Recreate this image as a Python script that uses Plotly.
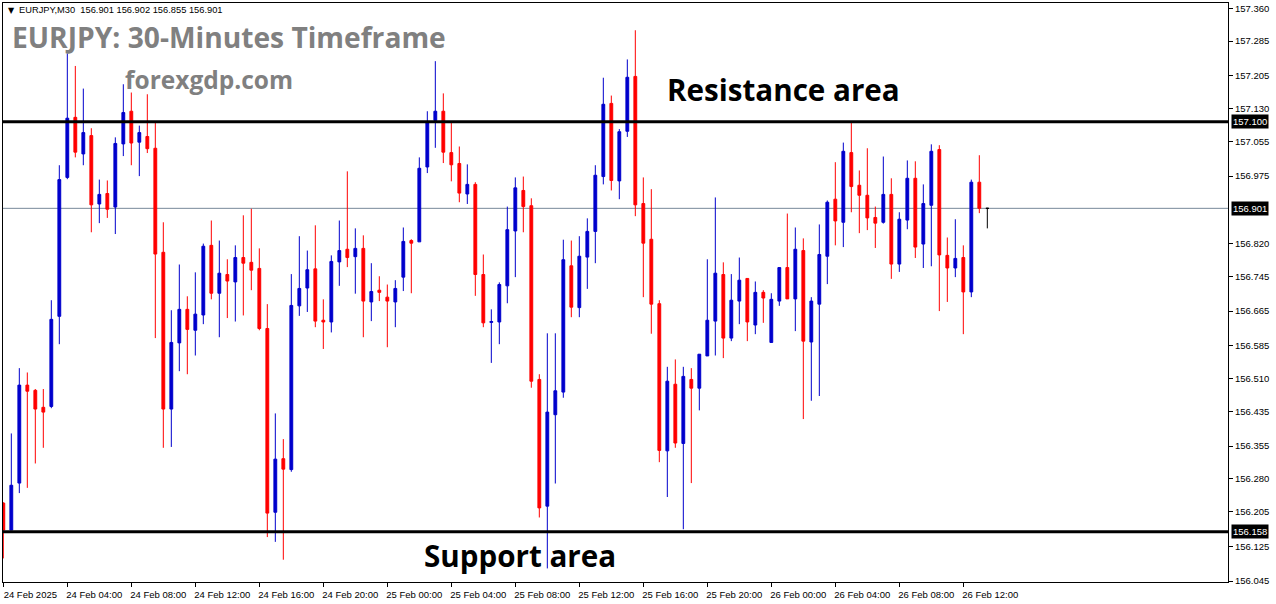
import plotly.graph_objects as go

# ---- data ----
open_ = [156.224, 156.162, 156.270, 156.495, 156.483, 156.444, 156.446, 156.653, 156.972, 157.110,
         157.026, 157.068, 156.911, 156.935, 156.904, 157.049, 157.124, 157.053, 157.066, 157.039,
         156.800, 156.440, 156.592, 156.669, 156.621, 156.656, 156.816, 156.706, 156.749, 156.732,
         156.788, 156.777, 156.763, 156.625, 156.203, 156.326, 156.301, 156.677, 156.718, 156.762,
         156.644, 156.640, 156.778, 156.807, 156.790, 156.809, 156.686, 156.713, 156.697, 156.686,
         156.743, 156.827, 156.824, 156.996, 157.103, 157.124, 157.029, 157.004, 156.934, 156.956,
         156.749, 156.639, 156.640, 156.723, 156.849, 156.942, 156.907, 156.508, 156.217, 156.427,
         156.479, 156.769, 156.673, 156.789, 156.848, 156.974, 157.142, 156.964, 157.078, 157.204,
         156.912, 156.830, 156.682, 156.344, 156.497, 156.361, 156.508, 156.488, 156.562, 156.642,
         156.749, 156.603, 156.688, 156.740, 156.633, 156.708, 156.593, 156.688, 156.765, 156.693,
         156.804, 156.594, 156.681, 156.791, 156.922, 156.869, 157.029, 156.954, 156.931, 156.880,
         156.869, 156.933, 156.773, 156.874, 156.970, 156.819, 156.908, 157.036, 156.793, 156.764,
         156.788, 156.709, 156.961, 156.901]
high = [156.226, 156.384, 156.534, 156.524, 156.486, 156.486, 156.690, 157.000, 157.257, 157.228,
        157.176, 157.085, 156.967, 156.965, 157.064, 157.186, 157.167, 157.091, 157.163, 157.098,
        156.869, 156.667, 156.772, 156.699, 156.754, 156.820, 156.873, 156.827, 156.784, 156.816,
        156.885, 156.900, 156.809, 156.681, 156.430, 156.371, 156.750, 156.837, 156.804, 156.862,
        156.692, 156.793, 156.873, 156.986, 156.855, 156.839, 156.775, 156.745, 156.726, 156.736,
        156.857, 156.830, 157.018, 157.124, 157.239, 157.165, 157.098, 157.043, 157.002, 156.961,
        156.795, 156.669, 156.731, 156.905, 156.972, 156.974, 156.924, 156.520, 156.614, 156.614,
        156.829, 156.827, 156.837, 156.878, 157.000, 157.201, 157.160, 157.083, 157.243, 157.310,
        156.972, 156.945, 156.690, 156.537, 156.554, 156.537, 156.534, 156.566, 156.784, 156.926,
        156.777, 156.750, 156.788, 156.740, 156.733, 156.713, 156.706, 156.765, 156.889, 156.857,
        156.832, 156.697, 156.864, 156.919, 157.007, 157.052, 157.097, 156.988, 157.039, 156.905,
        157.020, 156.970, 156.892, 157.011, 157.009, 156.956, 157.048, 157.046, 156.834, 156.876,
        156.816, 156.967, 157.023, 156.902]
low = [156.097, 156.162, 156.247, 156.259, 156.315, 156.351, 156.442, 156.589, 156.968, 157.018,
       157.000, 156.846, 156.867, 156.879, 156.842, 157.021, 157.000, 156.975, 157.028, 156.603,
       156.351, 156.353, 156.527, 156.520, 156.563, 156.635, 156.692, 156.605, 156.649, 156.641,
       156.655, 156.713, 156.621, 156.146, 156.135, 156.094, 156.296, 156.654, 156.663, 156.628,
       156.578, 156.616, 156.723, 156.766, 156.705, 156.605, 156.642, 156.688, 156.582, 156.628,
       156.711, 156.706, 156.824, 156.982, 157.040, 157.005, 156.963, 156.915, 156.911, 156.700,
       156.628, 156.546, 156.589, 156.683, 156.743, 156.846, 156.489, 156.191, 156.074, 156.269,
       156.466, 156.651, 156.651, 156.716, 156.775, 156.956, 156.942, 156.922, 157.065, 156.883,
       156.697, 156.613, 156.318, 156.238, 156.351, 156.164, 156.270, 156.437, 156.562, 156.563,
       156.557, 156.596, 156.635, 156.596, 156.612, 156.638, 156.593, 156.677, 156.693, 156.619,
       156.417, 156.459, 156.470, 156.727, 156.816, 156.812, 156.892, 156.844, 156.851, 156.810,
       156.866, 156.739, 156.755, 156.853, 156.787, 156.764, 156.768, 156.665, 156.686, 156.743,
       156.612, 156.697, 156.890, 156.855]
close = [156.162, 156.265, 156.495, 156.481, 156.440, 156.433, 156.646, 156.967, 157.108, 157.030,
         157.075, 156.909, 156.933, 156.899, 157.050, 157.121, 157.051, 157.075, 157.038, 156.796,
         156.440, 156.593, 156.669, 156.623, 156.658, 156.814, 156.706, 156.752, 156.734, 156.788,
         156.775, 156.759, 156.625, 156.201, 156.325, 156.302, 156.678, 156.717, 156.760, 156.642,
         156.640, 156.779, 156.804, 156.788, 156.809, 156.688, 156.710, 156.708, 156.688, 156.717,
         156.825, 156.821, 156.993, 157.097, 157.124, 157.030, 157.001, 156.936, 156.956, 156.749,
         156.638, 156.641, 156.726, 156.852, 156.948, 156.905, 156.504, 156.213, 156.433, 156.482,
         156.783, 156.674, 156.791, 156.848, 156.977, 157.140, 156.965, 157.077, 157.202, 156.909,
         156.821, 156.681, 156.345, 156.504, 156.362, 156.515, 156.488, 156.566, 156.644, 156.752,
         156.603, 156.690, 156.736, 156.640, 156.708, 156.695, 156.692, 156.765, 156.693, 156.807,
         156.596, 156.688, 156.795, 156.915, 156.872, 157.032, 156.951, 156.931, 156.879, 156.867,
         156.933, 156.773, 156.876, 156.970, 156.812, 156.912, 157.032, 156.794, 156.764, 156.786,
         156.709, 156.961, 156.901, 156.901]

time_labels = ["24 Feb 2025", "24 Feb 04:00", "24 Feb 08:00", "24 Feb 12:00", "24 Feb 16:00",
               "24 Feb 20:00", "25 Feb 00:00", "25 Feb 04:00", "25 Feb 08:00", "25 Feb 12:00",
               "25 Feb 16:00", "25 Feb 20:00", "26 Feb 00:00", "26 Feb 04:00", "26 Feb 08:00",
               "26 Feb 12:00"]
bars_per_label = 8
price_ticks = [157.360, 157.285, 157.205, 157.130, 157.055, 156.975, 156.820, 156.745, 156.665,
               156.585, 156.510, 156.435, 156.355, 156.280, 156.205, 156.125, 156.045]
resistance = 157.100
support = 156.158
bid = 156.901
header = "EURJPY,M30  156.901 156.902 156.855 156.901"

# ---- styles ----
BLUE = "#0000CC"
RED = "#FF0000"
AXFONT = dict(family="Liberation Sans", size=9.5, color="black")

n = len(open_)
idx = list(range(n))

fig = go.Figure()
fig.add_trace(go.Candlestick(
    x=idx[:-1], open=open_[:-1], high=high[:-1], low=low[:-1], close=close[:-1],
    increasing=dict(line=dict(color=BLUE, width=1), fillcolor=BLUE),
    decreasing=dict(line=dict(color=RED, width=1), fillcolor=RED),
    whiskerwidth=0, hoverinfo="skip", showlegend=False))
fig.add_trace(go.Candlestick(
    x=idx[-1:], open=open_[-1:], high=high[-1:], low=low[-1:], close=close[-1:],
    increasing=dict(line=dict(color="black", width=1), fillcolor="black"),
    decreasing=dict(line=dict(color="black", width=1), fillcolor="black"),
    whiskerwidth=0, hoverinfo="skip", showlegend=False))

fig.add_hline(y=bid, line=dict(color="#778899", width=1), layer="below")
fig.add_hline(y=resistance, line=dict(color="black", width=3), layer="above")
fig.add_hline(y=support, line=dict(color="black", width=3), layer="above")

tickpos = [i * bars_per_label for i in range(len(time_labels))]

fig.update_layout(
    width=1276, height=604,
    margin=dict(l=3, r=48, t=3, b=22, autoexpand=False),
    paper_bgcolor="white", plot_bgcolor="white",
    boxgap=0.5,
    showlegend=False,
    xaxis=dict(range=[-0.04, 153.085], tickvals=tickpos, ticktext=time_labels,
               ticks="outside", ticklen=4, tickcolor="black", tickwidth=1,
               showline=True, linecolor="black", linewidth=1, mirror=True,
               showgrid=False, zeroline=False, tickfont=AXFONT,
               ticklabelshift=27, ticklabelstandoff=0, automargin=False,
               rangeslider=dict(visible=False), fixedrange=True),
    yaxis=dict(side="right", range=[156.0428, 157.3726], tickvals=price_ticks,
               ticktext=[f"{v:.3f}" for v in price_ticks],
               ticks="outside", ticklen=4, tickcolor="black", tickwidth=1,
               showline=True, linecolor="black", linewidth=1, mirror=True,
               showgrid=False, zeroline=False, tickfont=AXFONT, automargin=False,
               fixedrange=True),
)

def px_x(p):
    return (p - 3) / 1225.0

def px_y(p):
    return (582 - p) / 579.0

annos = [
    dict(text="▼", x=px_x(6), y=px_y(10), font=dict(family="DejaVu Sans", size=8, color="black")),
    dict(text=header, x=px_x(17), y=px_y(10), font=dict(family="Liberation Sans", size=9.3, color="black")),
    dict(text="<b>EURJPY: 30-Minutes Timeframe</b>", x=px_x(10), y=px_y(37),
         font=dict(family="Open Sans", size=28.2, color="#808080")),
    dict(text="<b>forexgdp.com</b>", x=px_x(123), y=px_y(80),
         font=dict(family="Open Sans", size=24.5, color="#808080")),
    dict(text="<b>Resistance area</b>", x=px_x(665), y=px_y(90),
         font=dict(family="Open Sans", size=29.6, color="black")),
    dict(text="<b>Support area</b>", x=px_x(422), y=px_y(555),
         font=dict(family="Open Sans", size=29.6, color="black")),
]
for a in annos:
    fig.add_annotation(xref="paper", yref="paper", xanchor="left", yanchor="middle",
                       showarrow=False, **a)

for v in [resistance, bid, support]:
    fig.add_annotation(xref="paper", yref="y", x=1, y=v, xanchor="left", yanchor="middle",
                       xshift=3, text=f"{v:.3f}", showarrow=False, bgcolor="black",
                       borderpad=1, font=dict(family="Liberation Sans", size=9.5, color="white"))

fig.write_html("out.html", config={"displayModeBar": False, "staticPlot": True},
               post_script="document.body.style.margin='0';document.body.style.overflow='hidden';")
